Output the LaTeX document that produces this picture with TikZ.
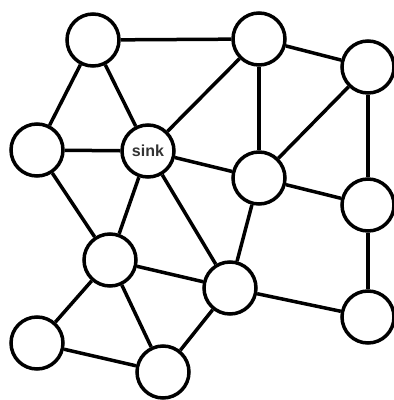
\documentclass[tikz,border=0pt]{standalone}
\usepackage{fontspec}
\setmainfont{Liberation Sans}
\begin{document}
\begin{tikzpicture}[x=1pt,y=-1pt,
  nd/.style={circle,draw=black,line width=3.5pt,fill=white,minimum size=52pt,inner sep=0pt},
  ed/.style={line width=3.5pt,black}]
\useasboundingbox (0,0) rectangle (394,400);
\clip (0,0) rectangle (394,400);
\node[nd] (A) at (93,40) {};
\node[nd] (B) at (259,39) {};
\node[nd] (C) at (368,67) {};
\node[nd] (D) at (37,150) {};
\node[nd,font=\bfseries\fontsize{16}{16}\selectfont,text=black!80] (S) at (148,151) {sink};
\node[nd] (E) at (259,178) {};
\node[nd] (F) at (368,205) {};
\node[nd] (G) at (110,260) {};
\node[nd] (H) at (230,288) {};
\node[nd] (I) at (368,317) {};
\node[nd] (J) at (37,343) {};
\node[nd] (K) at (163,372) {};
\draw[ed] (A) -- (B);
\draw[ed] (A) -- (D);
\draw[ed] (A) -- (S);
\draw[ed] (B) -- (S);
\draw[ed] (B) -- (C);
\draw[ed] (B) -- (E);
\draw[ed] (C) -- (E);
\draw[ed] (C) -- (F);
\draw[ed] (D) -- (S);
\draw[ed] (D) -- (G);
\draw[ed] (S) -- (E);
\draw[ed] (S) -- (G);
\draw[ed] (S) -- (H);
\draw[ed] (E) -- (F);
\draw[ed] (E) -- (H);
\draw[ed] (F) -- (I);
\draw[ed] (G) -- (H);
\draw[ed] (G) -- (J);
\draw[ed] (G) -- (K);
\draw[ed] (H) -- (K);
\draw[ed] (H) -- (I);
\draw[ed] (J) -- (K);
\end{tikzpicture}
\end{document}
